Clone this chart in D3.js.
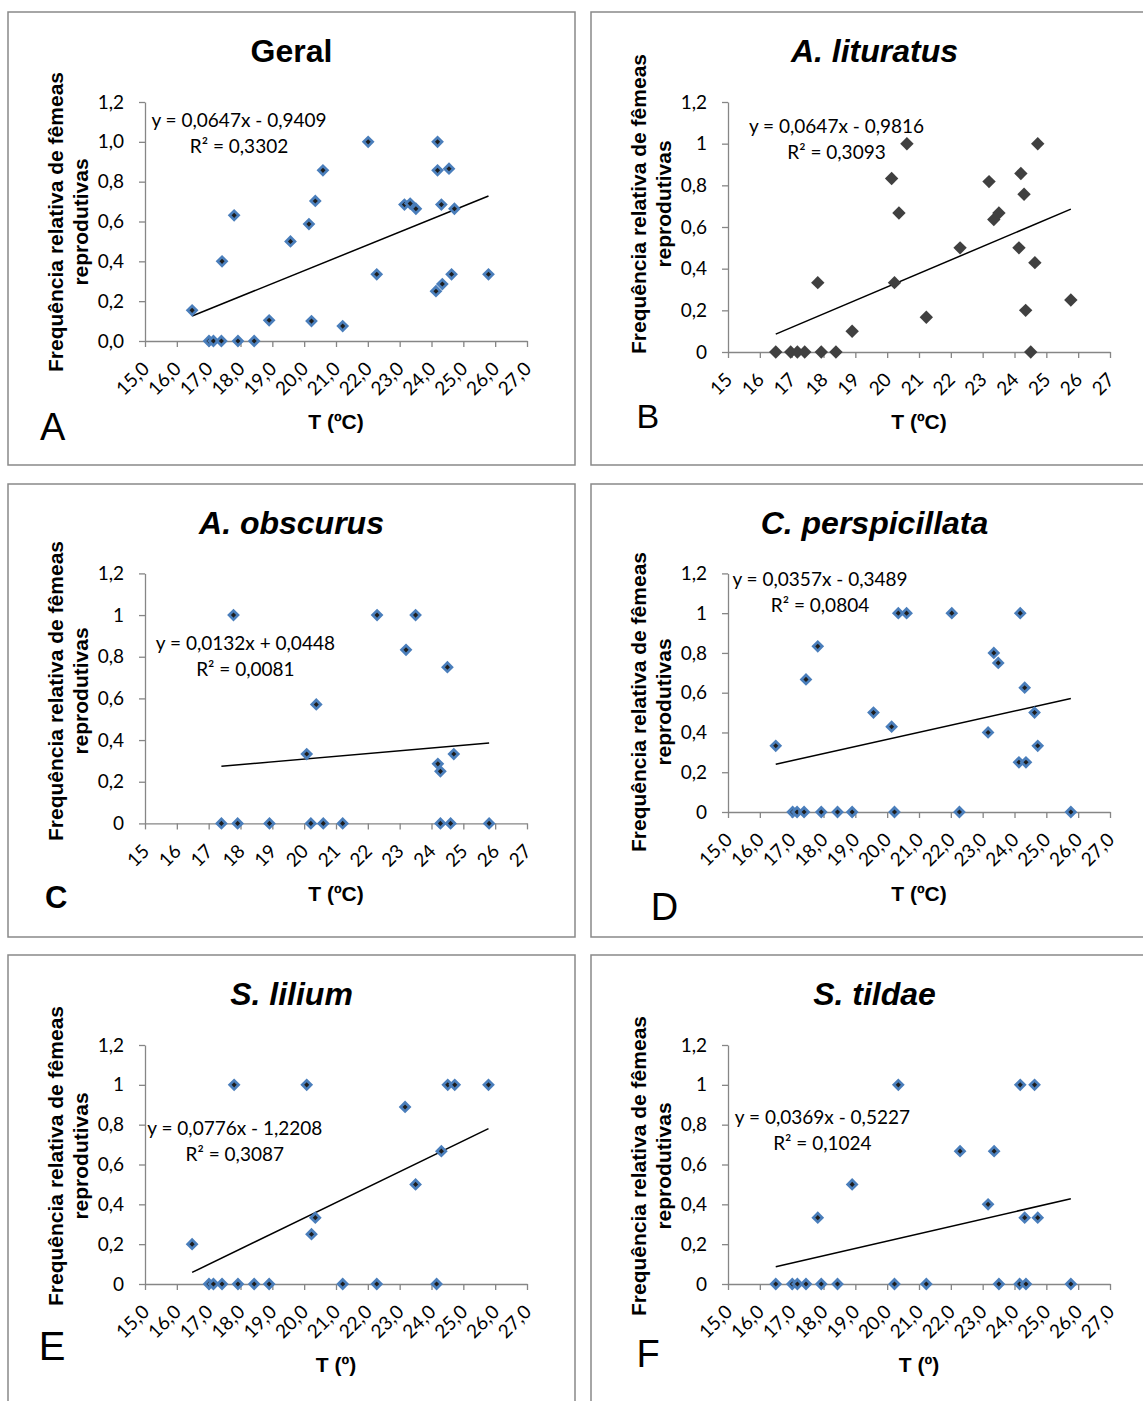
<!DOCTYPE html>
<meta charset="utf-8">
<style>
 body { margin: 0; background: #fff; }
 svg { font-family: "Liberation Sans", Arial, sans-serif; }
 .frame { fill: #fff; stroke: #898989; stroke-width: 1.5; }
 .axis path, .axis line { stroke: #868686; stroke-width: 1.3; }
 .axis text { font-family: Lato, sans-serif; font-size: 19px; fill: #000; }
 .title { font-size: 32px; font-weight: bold; }
 .ytitle, .xtitle { font-size: 21px; font-weight: bold; }
 .eq { font-family: Lato, sans-serif; font-size: 19px; }
 .trend { stroke: #000; stroke-width: 1.5; fill: none; }
</style>
<svg width="1143" height="1401"></svg>
<script src="https://d3js.org/d3.v7.min.js"></script>
<script>

 // temperatures (ºC) and relative frequency of reproductive females, per panel
 var geralT = [16.48, 17.01, 17.15, 17.40, 17.42, 17.80, 17.92, 18.43, 18.90, 19.57, 20.15, 20.23, 20.35, 20.59, 21.21, 22.01, 22.28, 23.15, 23.33, 23.51, 24.14, 24.19, 24.19, 24.31, 24.34, 24.55, 24.63, 24.72, 25.79]
 var geralF = [0.154, 0, 0, 0, 0.40, 0.631, 0, 0, 0.104, 0.50, 0.587, 0.10, 0.703, 0.857, 0.075, 1.0, 0.335, 0.685, 0.69, 0.664, 0.25, 1.0, 0.857, 0.685, 0.286, 0.865, 0.335, 0.664, 0.335]

 var lituratusT = [16.50, 16.97, 17.18, 17.41, 17.82, 17.93, 18.39, 18.90, 20.14, 20.23, 20.37, 20.62, 21.23, 22.29, 23.20, 23.35, 23.51, 24.14, 24.20, 24.30, 24.35, 24.51, 24.64, 24.73, 25.77]
 var lituratusF = [0, 0, 0, 0, 0.333, 0, 0, 0.10, 0.833, 0.333, 0.667, 1.0, 0.167, 0.50, 0.818, 0.636, 0.667, 0.50, 0.857, 0.757, 0.20, 0, 0.429, 1.0, 0.25]

 var obscurusT = [17.40, 17.78, 17.91, 18.91, 20.08, 20.21, 20.38, 20.60, 21.21, 22.29, 23.20, 23.50, 24.20, 24.28, 24.28, 24.50, 24.60, 24.70, 25.81]
 var obscurusF = [0, 1.0, 0, 0, 0.333, 0, 0.571, 0, 0, 1.0, 0.833, 1.0, 0.286, 0.25, 0, 0.75, 0, 0.333, 0]

 var perspT = [16.50, 17.03, 17.17, 17.39, 17.45, 17.82, 17.93, 18.44, 18.90, 19.57, 20.14, 20.23, 20.35, 20.61, 22.03, 22.27, 23.17, 23.35, 23.49, 24.14, 24.18, 24.32, 24.36, 24.63, 24.73, 25.77]
 var perspF = [0.333, 0, 0, 0, 0.667, 0.833, 0, 0, 0, 0.50, 0.429, 0, 1.0, 1.0, 1.0, 0, 0.40, 0.80, 0.75, 0.25, 1.0, 0.625, 0.25, 0.50, 0.333, 0]

 var liliumT = [16.48, 17.01, 17.15, 17.42, 17.80, 17.92, 18.43, 18.90, 20.08, 20.23, 20.35, 21.21, 22.28, 23.17, 23.50, 24.16, 24.31, 24.51, 24.73, 25.79]
 var liliumF = [0.20, 0, 0, 0, 1.0, 0, 0, 0, 1.0, 0.25, 0.333, 0, 0, 0.889, 0.50, 0, 0.667, 1.0, 1.0, 1.0]

 var tildaeT = [16.50, 17.02, 17.18, 17.45, 17.82, 17.93, 18.44, 18.90, 20.23, 20.35, 21.23, 22.29, 23.17, 23.36, 23.51, 24.16, 24.18, 24.32, 24.36, 24.63, 24.73, 25.77]
 var tildaeF = [0, 0, 0, 0, 0.333, 0, 0, 0.50, 0, 1.0, 0, 0.667, 0.40, 0.667, 0, 0, 1.0, 0.333, 0, 1.0, 0.333, 0]

 // trendlines as printed on the chart
 var slopes = [0.0647, 0.0647, 0.0132, 0.0357, 0.0776, 0.0369]
 var intercepts = [-0.9409, -0.9816, 0.0448, -0.3489, -1.2208, -0.5227]
 var equations = ['y = 0,0647x - 0,9409', 'y = 0,0647x - 0,9816', 'y = 0,0132x + 0,0448',
                  'y = 0,0357x - 0,3489', 'y = 0,0776x - 1,2208', 'y = 0,0369x - 0,5227']
 var r2 = ['R² = 0,3302', 'R² = 0,3093', 'R² = 0,0081', 'R² = 0,0804', 'R² = 0,3087', 'R² = 0,1024']

 var titles = ['Geral', 'A. lituratus', 'A. obscurus', 'C. perspicillata', 'S. lilium', 'S. tildae']
 var letters = ['A', 'B', 'C', 'D', 'E', 'F']
 var xTitles = ['T (ºC)', 'T (ºC)', 'T (ºC)', 'T (ºC)', 'T (º)', 'T (º)']

 var xTicks = [15, 16, 17, 18, 19, 20, 21, 22, 23, 24, 25, 26, 27]
 var xLabelsDec = ['15,0', '16,0', '17,0', '18,0', '19,0', '20,0', '21,0', '22,0', '23,0', '24,0', '25,0', '26,0', '27,0']
 var xLabelsInt = ['15', '16', '17', '18', '19', '20', '21', '22', '23', '24', '25', '26', '27']
 var yTicks = [0, 0.2, 0.4, 0.6, 0.8, 1.0, 1.2]
 var yLabelsDec = ['0,0', '0,2', '0,4', '0,6', '0,8', '1,0', '1,2']
 var yLabelsShort = ['0', '0,2', '0,4', '0,6', '0,8', '1', '1,2']

 var svg = d3.select('svg')
 svg.append('rect').attr('width', 1143).attr('height', 1401).attr('fill', '#fff')

 // layout: frame origin, plot top/bottom inside frame, label offsets
 var fx = [8, 591, 8, 591, 8, 591]
 var fy = [12, 12, 484, 484, 955, 955]
 var plotTop = [90, 90, 89.4, 89.4, 90, 90]
 var plotBot = [329, 340, 339.4, 328, 329, 329]
 var eqPos = [[231, 115.3], [245.5, 120.7], [237.4, 165.7], [229, 102.4], [226.8, 180], [231.4, 169]]
 var yTitleMid = [210, 192, 207, 218, 201, 211]
 var letterPos = [[32, 428, 38, 'normal'], [45.5, 416, 34, 'normal'], [37, 424, 31, 'bold'],
                  [59.7, 436, 38, 'normal'], [30.7, 405, 40, 'normal'], [45.4, 411.7, 38, 'normal']]

 var series = [[geralT, geralF], [lituratusT, lituratusF], [obscurusT, obscurusF],
               [perspT, perspF], [liliumT, liliumF], [tildaeT, tildaeF]]

 series.forEach(function(s, i) {
   var g = svg.append('g').attr('transform', `translate(${fx[i]},${fy[i]})`)
   g.append('rect').attr('class', 'frame')
    .attr('width', 567).attr('height', 453)

   var x = d3.scaleLinear().domain([15, 27]).range([137, 519])
   var y = d3.scaleLinear().domain([0, 1.2]).range([plotBot[i], plotTop[i]])

   g.append('text').attr('class', 'title')
    .attr('x', 283.5).attr('y', 50)
    .attr('text-anchor', 'middle')
    .style('font-style', i == 0 ? 'normal' : 'italic')
    .text(titles[i])

   var xl = (i == 1 || i == 2) ? xLabelsInt : xLabelsDec
   var yl = i == 0 ? yLabelsDec : yLabelsShort

   var xa = g.append('g').attr('class', 'axis')
    .attr('transform', `translate(0,${plotBot[i]})`)
    .call(d3.axisBottom(x).tickValues(xTicks).tickSize(6).tickSizeOuter(0)
            .tickFormat(function(d, k) { return xl[k] }))
   xa.selectAll('text')
     .attr('x', 0).attr('y', 0).attr('dy', 0)
     .attr('text-anchor', 'end')
     .attr('transform', 'translate(5,29) rotate(-45)')

   g.append('g').attr('class', 'axis')
    .attr('transform', 'translate(137,0)')
    .call(d3.axisLeft(y).tickValues(yTicks).tickSize(6).tickSizeOuter(0).tickPadding(15)
            .tickFormat(function(d, k) { return yl[k] }))

   g.append('text').attr('class', 'xtitle')
    .attr('x', 328).attr('y', 417)
    .attr('text-anchor', 'middle')
    .text(xTitles[i])

   var yt = g.append('text').attr('class', 'ytitle')
    .attr('text-anchor', 'middle')
    .attr('transform', `translate(55,${yTitleMid[i]}) rotate(-90)`)
   yt.append('tspan').attr('x', 0).attr('y', 0).text('Frequência relativa de fêmeas')
   yt.append('tspan').attr('x', 0).attr('y', 24.5).text('reprodutivas')

   // trendline over the range of the data
   var ext = d3.extent(s[0])
   g.append('path').attr('class', 'trend')
    .attr('d', d3.line()
      .x(function(t) { return x(t) })
      .y(function(t) { return y(slopes[i] * t + intercepts[i]) })(ext))

   var pts = d3.zip(s[0], s[1])
   var diamond = d3.symbol().type(d3.symbolSquare).size(i == 1 ? 90 : 40)
   g.append('g').selectAll('path')
    .data(pts).enter().append('path')
    .attr('d', diamond)
    .attr('transform', function(d) { return `translate(${x(d[0])},${y(d[1])}) rotate(45)` })
    .attr('fill', i == 1 ? '#404040' : '#1e1e1e')
    .attr('stroke', i == 1 ? 'none' : '#4a7ebb')
    .attr('stroke-width', 2.7)

   var eq = g.append('text').attr('class', 'eq').attr('text-anchor', 'middle')
   eq.append('tspan').attr('x', eqPos[i][0]).attr('y', eqPos[i][1]).text(equations[i])
   eq.append('tspan').attr('x', eqPos[i][0]).attr('y', eqPos[i][1] + 25.8).text(r2[i])

   g.append('text')
    .attr('x', letterPos[i][0]).attr('y', letterPos[i][1])
    .style('font-size', letterPos[i][2] + 'px')
    .style('font-weight', letterPos[i][3])
    .text(letters[i])
 })

</script>
